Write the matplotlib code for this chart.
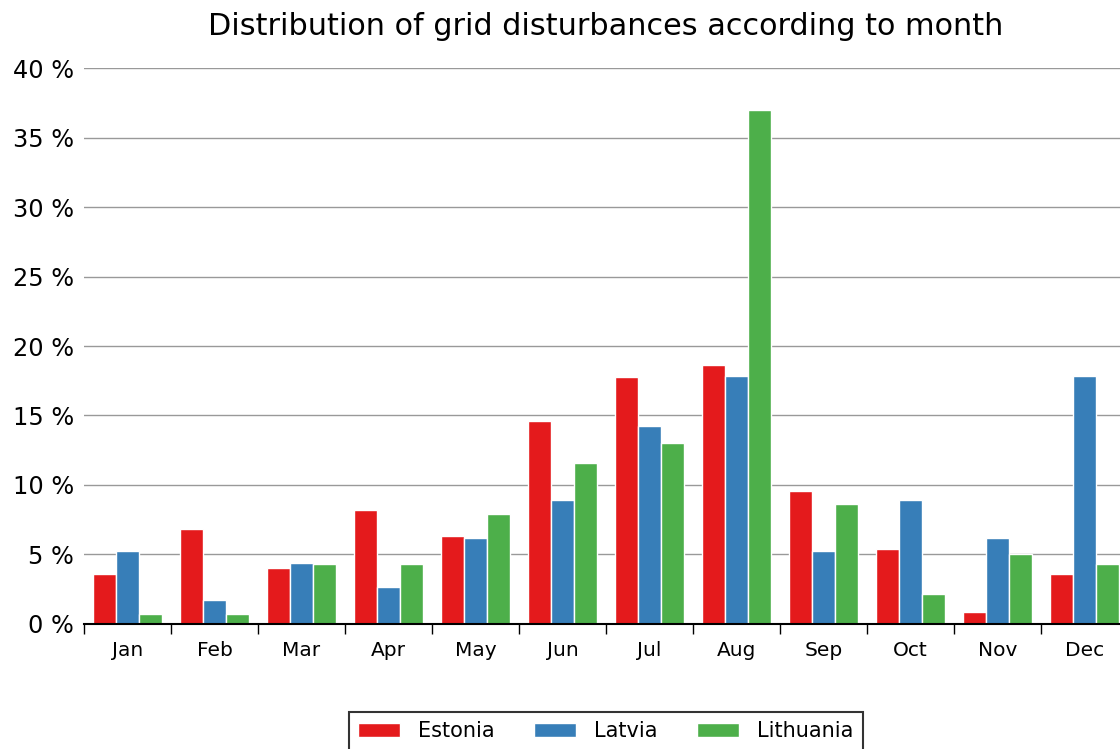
import numpy as np
import matplotlib.pyplot as plt
from matplotlib.ticker import FuncFormatter

months = ["Jan", "Feb", "Mar", "Apr", "May", "Jun",
          "Jul", "Aug", "Sep", "Oct", "Nov", "Dec"]
countries = ["Estonia", "Latvia", "Lithuania"]
colors = ["#e41a1c", "#377eb8", "#4daf4a"]

estonia = [3.6, 6.8, 4.0, 8.2, 6.35, 14.6, 17.8, 18.65, 9.6, 5.4, 0.85, 3.6]
latvia = [5.25, 1.7, 4.4, 2.65, 6.2, 8.95, 14.25, 17.85, 5.25, 8.95, 6.2, 17.85]
lithuania = [0.7, 0.7, 4.35, 4.35, 7.9, 11.55, 13.0, 36.95, 8.65, 2.15, 5.05, 4.35]
series = [estonia, latvia, lithuania]

fig = plt.figure(figsize=(11.2, 7.49), dpi=100)
ax = fig.add_axes([0.075, 0.1669, 0.932, 0.7423])

x = np.arange(len(months))
width = 0.265
for i, (name, vals) in enumerate(zip(countries, series)):
    ax.bar(x + (i - 1) * width, vals, width, color=colors[i],
           edgecolor="white", linewidth=1, label=name, zorder=3)

ax.set_xlim(-0.5, len(months) - 0.5)
ax.set_ylim(0, 40)
ax.set_yticks(np.arange(0, 41, 5))
ax.yaxis.set_major_formatter(FuncFormatter(lambda v, p: f"{v:.0f} %"))
ax.grid(axis="y", color="#999999", linewidth=1, zorder=0)

ax.set_xticks(x)
ax.set_xticklabels(months, fontsize=14.5)
ax.set_xticks(np.arange(-0.5, len(months), 1), minor=True)
ax.tick_params(axis="x", which="major", length=0, pad=12)
ax.tick_params(axis="x", which="minor", length=7, width=1, direction="out")
ax.tick_params(axis="y", length=0, labelsize=17.3, pad=7)

for s in ["left", "right", "top"]:
    ax.spines[s].set_visible(False)
ax.spines["bottom"].set_linewidth(1.5)
ax.spines["bottom"].set_zorder(4)

ax.set_title("Distribution of grid disturbances according to month",
             fontsize=21.8, pad=24)

leg = ax.legend(loc="upper center", bbox_to_anchor=(0.5, -0.158), ncol=3,
                fontsize=15, frameon=True, fancybox=False, edgecolor="black",
                handlelength=2.0, handleheight=0.67, handletextpad=0.87,
                columnspacing=1.9, borderaxespad=0, borderpad=0.45)
leg.get_frame().set_linewidth(1.5)

fig.savefig("out.png", dpi=100)
